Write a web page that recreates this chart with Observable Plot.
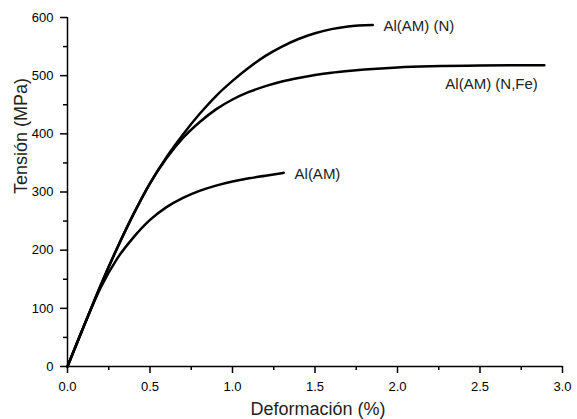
<!DOCTYPE html>
<html>
<head>
<meta charset="utf-8">
<script src="https://cdn.jsdelivr.net/npm/d3@7"></script>
<script src="https://cdn.jsdelivr.net/npm/@observablehq/plot@0.6"></script>
<style>
  html, body { margin: 0; padding: 0; background: white; }
</style>
</head>
<body>
<div id="chart"></div>
<script>
// Al(AM) (N)
const strainN = [0, 0.1, 0.2, 0.3, 0.4, 0.5, 0.6, 0.7, 0.8, 0.9, 1.0, 1.1, 1.2, 1.3, 1.4, 1.5, 1.6, 1.7, 1.85];
const stressN = [0, 70, 139, 203, 262, 315, 360, 399, 434, 465, 491, 514, 534, 550, 563, 573, 580, 584.5, 587];
// Al(AM) (N,Fe)
const strainNFe = [0, 0.1, 0.2, 0.3, 0.4, 0.5, 0.6, 0.7, 0.8, 0.9, 1.0, 1.1, 1.2, 1.3, 1.4, 1.5, 1.6, 1.7, 1.8, 1.9, 2.0, 2.2, 2.5, 2.89];
const stressNFe = [0, 70, 139, 203, 262, 315, 358, 393, 420, 442, 459, 472, 482, 490, 496, 501, 505, 508, 510.5, 512.5, 514, 516, 517.5, 518];
// Al(AM)
const strainAM = [0, 0.1, 0.2, 0.3, 0.4, 0.5, 0.6, 0.7, 0.8, 0.9, 1.0, 1.1, 1.2, 1.31];
const stressAM = [0, 70, 135, 185, 222, 252, 274, 290, 302, 311, 318, 323.5, 328, 333];

const seriesNames = ["Al(AM) (N)", "Al(AM) (N,Fe)", "Al(AM)"];
const labelX = [1.915, 2.29, 1.376];
const labelY = [585, 485, 331];

const xTicks = [0, 0.5, 1.0, 1.5, 2.0, 2.5, 3.0];
const xMinor = [0.25, 0.75, 1.25, 1.75, 2.25, 2.75];
const yTicks = [0, 100, 200, 300, 400, 500, 600];
const yMinor = [50, 150, 250, 350, 450, 550];

const xTitle = "Deformación (%)";
const yTitle = "Tensión (MPa)";

const rows = [];
[[strainN, stressN], [strainNFe, stressNFe], [strainAM, stressAM]].forEach(([xs, ys], i) => {
  xs.forEach((x, j) => rows.push({x, y: ys[j], s: seriesNames[i]}));
});
const labels = seriesNames.map((t, i) => ({t, x: labelX[i], y: labelY[i]}));

const chart = Plot.plot({
  width: 577,
  height: 419,
  marginLeft: 67,
  marginRight: 15,
  marginTop: 17,
  marginBottom: 53,
  x: {domain: [0, 3]},
  y: {domain: [0, 600]},
  style: {fontFamily: "'Liberation Sans', Arial, sans-serif", fontSize: "13px", color: "black", background: "white"},
  marks: [
    Plot.axisX({ticks: xTicks, tickSize: 7, tickPadding: 8, tickFormat: d => d.toFixed(1), label: null, fontSize: 13, strokeWidth: 1.5}),
    Plot.axisX({ticks: xMinor, tickSize: 4, tickFormat: () => "", label: null, strokeWidth: 1.5}),
    Plot.axisY({ticks: yTicks, tickSize: 7, tickPadding: 7, tickFormat: d => String(d), label: null, fontSize: 13, strokeWidth: 1.5}),
    Plot.axisY({ticks: yMinor, tickSize: 4, tickFormat: () => "", label: null, strokeWidth: 1.5}),
    Plot.ruleY([0], {stroke: "black", strokeWidth: 1.5}),
    Plot.ruleX([0], {stroke: "black", strokeWidth: 1.5}),
    Plot.line(rows, {x: "x", y: "y", z: "s", stroke: "black", strokeWidth: 2.5, curve: "monotone-x"}),
    Plot.text(labels, {x: "x", y: "y", text: "t", textAnchor: "start", fontSize: 15, fill: "#222"}),
    Plot.text([xTitle], {text: d => d, frameAnchor: "bottom", dy: 48, dx: 3, fontSize: 18, fill: "#222"}),
    Plot.text([yTitle], {text: d => d, frameAnchor: "left", rotate: -90, dx: -46, dy: 2, fontSize: 18, fill: "#222"})
  ]
});
document.getElementById("chart").appendChild(chart);
</script>
</body>
</html>
